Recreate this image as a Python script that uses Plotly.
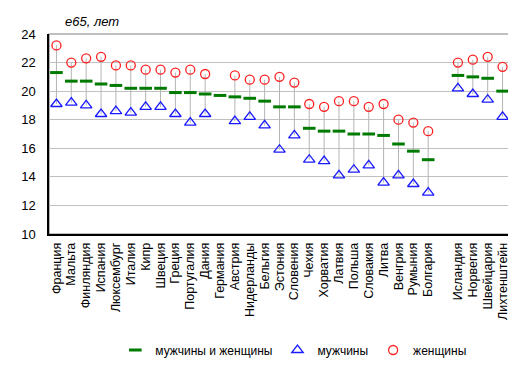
import plotly.graph_objects as go

countries = ["Франция", "Мальта", "Финляндия", "Испания", "Люксембург", "Италия", "Кипр",
             "Швеция", "Греция", "Португалия", "Дания", "Германия", "Австрия", "Нидерланды",
             "Бельгия", "Эстония", "Словения", "Чехия", "Хорватия", "Латвия", "Польша",
             "Словакия", "Литва", "Венгрия", "Румыния", "Болгария", " ",
             "Исландия", "Норвегия", "Швейцария", "Лихтенштейн"]

total = [21.3, 20.7, 20.7, 20.5, 20.4, 20.2, 20.2, 20.2, 19.9, 19.9, 19.8, 19.7, 19.6, 19.5,
         19.3, 18.9, 18.9, 17.4, 17.2, 17.2, 17.0, 17.0, 16.9, 16.3, 15.8, 15.2, None,
         21.1, 21.0, 20.9, 20.0]
male = [19.1, 19.2, 19.0, 18.4, 18.6, 18.5, 18.9, 18.9, 18.4, 17.8, 18.4, None, 17.9, 18.2,
        17.6, 15.9, 16.9, 15.2, 15.1, 14.1, 14.5, 14.8, 13.6, 14.1, 13.5, 12.9, None,
        20.2, 19.8, 19.4, 18.2]
female = [23.2, 22.0, 22.3, 22.4, 21.8, 21.8, 21.5, 21.5, 21.3, 21.5, 21.2, None, 21.1, 20.8,
          20.8, 21.0, 20.6, 19.1, 18.9, 19.3, 19.3, 18.9, 19.1, 18.0, 17.8, 17.2, None,
          22.0, 22.2, 22.4, 21.7]

yticks = [10, 12, 14, 16, 18, 20, 22, 24]

# high-low connector lines built from the data
lx, ly = [], []
for c, f, m in zip(countries, female, male):
    if f is not None and m is not None:
        lx += [c, c, None]
        ly += [f, m, None]

fig = go.Figure()
fig.add_trace(go.Scatter(x=lx, y=ly, mode="lines", line=dict(color="#b4b4b4", width=1),
                         showlegend=False, hoverinfo="skip"))
fig.add_trace(go.Scatter(x=countries, y=total, mode="markers", name="мужчины и женщины",
                         marker=dict(symbol="line-ew-open", size=9, color="#007a00",
                                     line=dict(color="#007a00", width=3))))
fig.add_trace(go.Scatter(x=countries, y=male, mode="markers", name="мужчины",
                         marker=dict(symbol="triangle-up-open", size=10, color="#1a1aff",
                                     line=dict(color="#1a1aff", width=1.3))))
fig.add_trace(go.Scatter(x=countries, y=female, mode="markers", name="женщины",
                         marker=dict(symbol="circle-open", size=9, color="#ff2020",
                                     line=dict(color="#ff2020", width=1.3))))

fig.update_layout(
    width=516, height=368,
    margin=dict(l=41, r=14, t=26, b=138),
    paper_bgcolor="white", plot_bgcolor="white",
    font=dict(family="Liberation Sans, Arial, sans-serif", size=12, color="black"),
    xaxis=dict(type="category", categoryorder="array", categoryarray=countries,
               tickmode="array", tickvals=countries, ticktext=countries,
               tickangle=-90, tickfont=dict(size=12.5), showgrid=False,
               showline=True, linecolor="black", linewidth=1.5, ticks="",
               ticklabelstandoff=2,
               range=[-0.5, len(countries) - 0.5], fixedrange=True),
    yaxis=dict(range=[10, 24], tickvals=yticks, ticktext=[str(v) for v in yticks],
               showgrid=True, gridcolor="#c0c0c0", gridwidth=1, zeroline=False,
               showline=True, linecolor="black", linewidth=1.5, ticks="",
               tickfont=dict(size=13), ticklabelstandoff=9),
    legend=dict(orientation="h", x=0.53, xanchor="center", y=-0.58, yanchor="middle",
                font=dict(size=12), itemwidth=30, tracegroupgap=0,
                bgcolor="rgba(0,0,0,0)"),
    shapes=[dict(type="rect", xref="paper", yref="paper", x0=0, x1=1, y0=0, y1=1,
                 line=dict(color="#808080", width=1.2), layer="below")],
    annotations=[dict(text="<i>e65, лет</i>", xref="paper", yref="paper", x=0.03, y=1.0,
                      xanchor="left", yanchor="bottom", yshift=3, showarrow=False,
                      font=dict(size=13))],
)

fig.write_html("out.html")
